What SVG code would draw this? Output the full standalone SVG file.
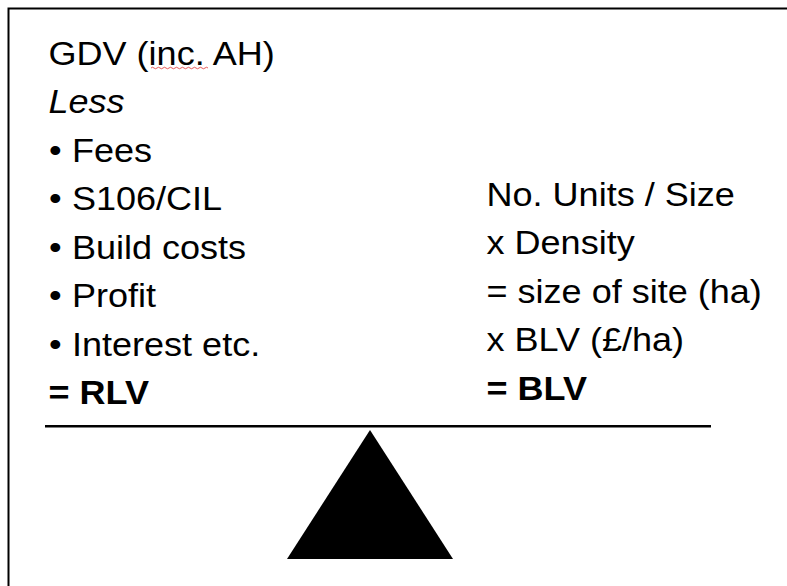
<svg xmlns="http://www.w3.org/2000/svg" width="787" height="586" viewBox="0 0 787 586">
<style>
text{font-family:"Liberation Sans",Arial,sans-serif;font-size:34px;fill:#000}
.b{font-weight:bold}
.i{font-style:italic}
</style>
<rect x="0" y="0" width="787" height="586" fill="#fff"/>
<g id="frame"><polyline points="8.5,586 8.5,8.5 787,8.5" fill="none" stroke="#000" stroke-width="2"/></g>
<path id="spell" d="M151,68 q1.5,-1.5 3,0 t3,0 t3,0 t3,0 t3,0 t3,0 t3,0 t3,0 t3,0 t3,0 t3,0 t3,0 t3,0 t3,0 t3,0 t3,0 t3,0 t3,0 t3,0" fill="none" stroke="#e03030" stroke-width="0.8"/>
<g id="left" transform="scale(1.06 1)">
<text x="45.8" y="65">GDV (inc. AH)</text>
<text class="i" x="45.8" y="113.5">Less</text>
<text x="46.2" y="162">•</text><text x="67.9" y="162">Fees</text>
<text x="46.2" y="210.5">•</text><text x="67.9" y="210.5">S106/CIL</text>
<text x="46.2" y="259">•</text><text x="67.9" y="259">Build costs</text>
<text x="46.2" y="307.5">•</text><text x="67.9" y="307.5">Profit</text>
<text x="46.2" y="356">•</text><text x="67.9" y="356">Interest etc.</text>
<text class="b" x="45.8" y="404.5">= RLV</text>
</g>
<g id="right" transform="scale(1.06 1)">
<text x="459" y="206">No. Units / Size</text>
<text x="459" y="254.5">x Density</text>
<text x="459" y="303">= size of site (ha)</text>
<text x="459" y="351.5">x BLV (£/ha)</text>
<text class="b" x="459" y="400">= BLV</text>
</g>
<g id="balance">
<line x1="45" y1="426.3" x2="711" y2="426.3" stroke="#000" stroke-width="2.5"/>
<polygon points="370,430 287,559 453,559" fill="#000"/>
</g>
</svg>
